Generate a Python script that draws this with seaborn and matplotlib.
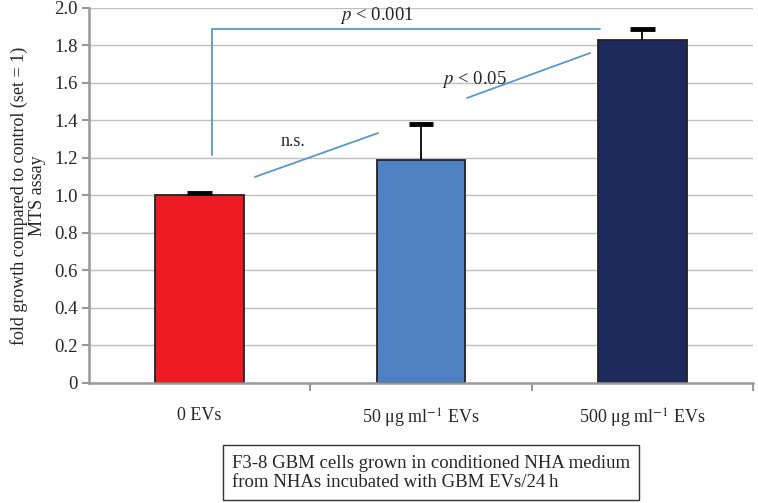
import numpy as np
import pandas as pd
import matplotlib
matplotlib.use("Agg")
import matplotlib.pyplot as plt
import seaborn as sns

# data
groups = ["0 EVs", r"50 μg ml$^{-1}$ EVs", r"500 μg ml$^{-1}$ EVs"]
fold_growth = [1.00, 1.19, 1.83]
err_upper = [0.015, 0.19, 0.06]
bar_colors = ["#ed1c24", "#4f81c2", "#1f2a5c"]

df = pd.DataFrame({"group": groups, "fold": fold_growth})

sns.set_style("white")
plt.rcParams["font.family"] = ["Liberation Serif", "DejaVu Serif"]
plt.rcParams["mathtext.fontset"] = "stix"

fig = plt.figure(figsize=(7.58, 5.03), dpi=100)
ax = fig.add_axes([0.1174, 0.2386, 0.876, 0.7455])

sns.barplot(data=df, x="group", y="fold", hue="group", palette=bar_colors,
            saturation=1, width=0.4, edgecolor="#222222", linewidth=1.3,
            legend=False, ax=ax)

# upper error bars only
xs = np.arange(len(groups))
tops = np.array(fold_growth) + np.array(err_upper)
ax.vlines(xs, fold_growth, tops, color="black", lw=1.3, zorder=3)
ax.hlines(tops, xs - 0.055, xs + 0.055, color="black", lw=3.5, zorder=3)

ax.set_xlim(-0.5, 2.5)
ax.set_ylim(0, 2.0)
ax.set_yticks(np.arange(0, 2.01, 0.2))
ax.set_yticklabels(["0"] + ["%.1f" % v for v in np.arange(0.2, 2.01, 0.2)])
ax.yaxis.grid(True, color="#c0c0c0", linewidth=1)
ax.set_axisbelow(True)

# category boundaries as ticks
ax.set_xticks([0.5, 1.5, 2.5], minor=True)
ax.tick_params(axis="x", which="minor", length=6, width=1.5, color="#999999",
               direction="out", bottom=True)
ax.tick_params(axis="x", which="major", length=0, pad=17, labelsize=13)
ax.tick_params(axis="y", length=5, width=1.5, color="#999999", direction="out",
               left=True, labelsize=13.5, pad=3)

for s in ["top", "right"]:
    ax.spines[s].set_visible(False)
for s in ["left", "bottom"]:
    ax.spines[s].set_color("#999999")
    ax.spines[s].set_linewidth(1.8)

ax.set_xlabel("")
ax.set_ylabel("fold growth compared to control (set = 1)\nMTS assay",
              fontsize=13, labelpad=6, linespacing=1.1)

# significance annotations
lc = "#5b97cf"
ax.plot([0.056, 0.056, 1.81], [1.216, 1.888, 1.888], color=lc, lw=1.3)
ax.text(0.8, 1.905, r"$p$ < 0.001", ha="center", va="bottom", fontsize=13.5)

ax.plot([0.25, 0.806], [1.099, 1.333], color=lc, lw=1.3)
ax.text(0.42, 1.245, "n.s.", ha="center", va="bottom", fontsize=13)

ax.plot([1.208, 1.764], [1.52, 1.76], color=lc, lw=1.3)
ax.text(1.24, 1.565, r"$p$ < 0.05", ha="center", va="bottom", fontsize=13.5)

fig.text(0.306, 0.06,
         "F3-8 GBM cells grown in conditioned NHA medium\nfrom NHAs incubated with GBM EVs/24\u2009h",
         ha="left", va="center", fontsize=13.5, linespacing=1.15,
         bbox=dict(boxstyle="square,pad=0.5", facecolor="white",
                   edgecolor="#333333", linewidth=1))

fig.savefig("out.png", dpi=100)
